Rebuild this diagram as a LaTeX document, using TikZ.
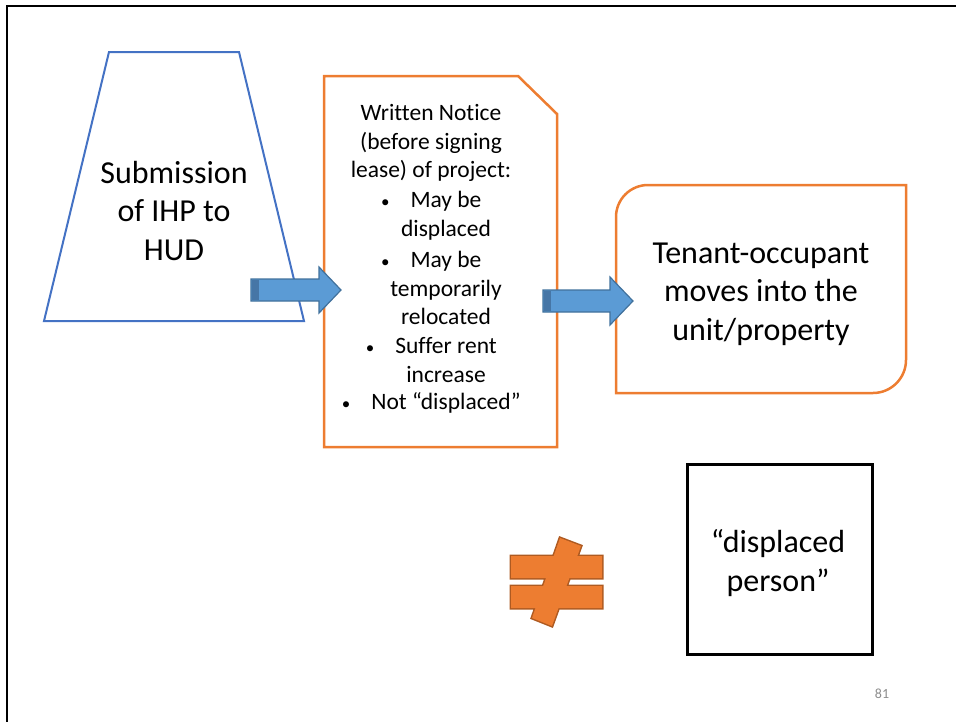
\documentclass[tikz,border=0pt]{standalone}
\usepackage{fontspec}
\setmainfont{Carlito}[Ligatures=NoCommon]
\definecolor{shapeblue}{HTML}{4472C4}
\definecolor{arrowfill}{HTML}{5B9BD5}
\definecolor{arrowedge}{HTML}{41719C}
\definecolor{arrowbevel}{HTML}{4676A6}
\definecolor{notice}{HTML}{ED7D31}
\definecolor{noticedark}{HTML}{AE5A21}
\definecolor{pagegray}{HTML}{8C8C8C}
\tikzset{
  bigtext/.style={align=center, font=\fontsize{32}{38.5}\selectfont},
  smalltext/.style={align=center, font=\fontsize{23.5}{28.7}\selectfont},
  blockarrow/.style={fill=arrowfill, draw=arrowedge, line width=1.2pt, line join=miter},
  bevel/.style={fill=arrowbevel},
}
\newcommand{\bul}{\llap{{\fontsize{17}{17}\selectfont •}\hspace{21pt}}}
\begin{document}
\begin{tikzpicture}[x=1pt, y=-1pt]
\useasboundingbox (0,0) rectangle (956,721);
\clip (0,0) rectangle (956,721);

% slide frame
\draw[line width=2.5pt] (7,740) -- (7,6) -- (980,6);

% submission trapezium
\draw[shapeblue, line width=2pt, line join=miter]
  (109,52) -- (239,52) -- (304,321) -- (44,321) -- cycle;
\node[bigtext] (submit) at (174,211) {Submission\\of IHP to\\HUD};

% written notice (page with clipped corner)
\draw[notice, line width=2.5pt, line join=miter]
  (324,76) -- (518,76) -- (557,114) -- (557,447) -- (324,447) -- cycle;
\node[smalltext] (head) at (431,143) {Written Notice\\(before signing\\lease) of project:};
\node[smalltext] (b1) at (446,216) {\bul May be\\displaced};
\node[smalltext] (b2) at (446,288) {\bul May be\\temporarily\\relocated};
\node[smalltext] (b3) at (446,360) {\bul Suffer rent\\increase};
\node[smalltext] (b4) at (446,403) {\bul Not “displaced”};

% tenant box, rounded on two diagonal corners
\draw[notice, line width=2.5pt, line join=miter]
  (616,393) -- (616,217) .. controls (616,199.3) and (630.3,185) .. (648,185)
  -- (906,185) -- (906,360) .. controls (906,378.2) and (891.2,393) .. (873,393)
  -- cycle;
\node[bigtext] (tenant) at (761,294) {Tenant-occupant\\moves into the\\unit/property};

% block arrows
\draw[blockarrow] (251,279) -- (319,279) -- (319,267) -- (341,290)
  -- (319,313) -- (319,301) -- (251,301) -- cycle;
\fill[bevel] (251.6,279.6) rectangle (259,300.4);
\draw[blockarrow] (543,290) -- (610,290) -- (610,277) -- (633,301)
  -- (610,325) -- (610,312) -- (543,312) -- cycle;
\fill[bevel] (543.6,290.6) rectangle (551,311.4);

% not-equal sign
\begin{scope}[line join=miter]
  \draw[noticedark, line width=3pt]
    (511,556) rectangle (602,578)
    (511,586) rectangle (602,608)
    (560,538) -- (581,546) -- (552,626) -- (532,618) -- cycle;
  \fill[notice]
    (511,556) rectangle (602,578)
    (511,586) rectangle (602,608);
  \fill[notice]
    (560,538) -- (581,546) -- (552,626) -- (532,618) -- cycle;
\end{scope}

% displaced person box
\draw[line width=3pt] (687,464) rectangle (872,654);
\node[bigtext] (dp) at (778,563) {“displaced\\person”};

% page number
\node[pagegray, font=\fontsize{14}{16}\selectfont] (pg) at (882,694) {81};
\end{tikzpicture}
\end{document}
